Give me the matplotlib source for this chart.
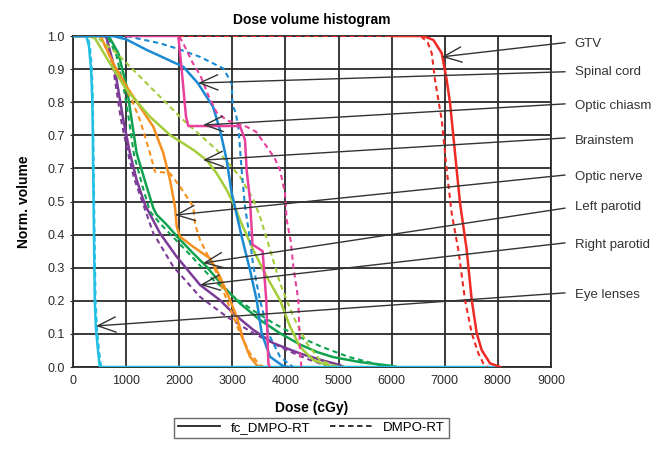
import matplotlib
matplotlib.use("Agg")
import matplotlib.pyplot as plt
from matplotlib.lines import Line2D

# ── Data (dose in cGy, normalised volume) ──────────────────────────────────────
organs = ["GTV", "Spinal cord", "Optic chiasm", "Brainstem",
          "Optic nerve", "Left parotid", "Right parotid", "Eye lenses"]

gtv_fc_x = [6000, 6597, 6786, 6943, 7037, 7100, 7163, 7225, 7288, 7414, 7508, 7602, 7696, 7853, 7979, 8050]
gtv_fc_y = [1, 1, 0.988, 0.948, 0.867, 0.797, 0.696, 0.595, 0.495, 0.353, 0.202, 0.102, 0.051, 0.011, 0.004, 0]
gtv_dm_x = [2000, 6550, 6680, 6755, 6817, 6943, 7037, 7131, 7257, 7382, 7508, 7633, 7727, 7800]
gtv_dm_y = [1, 1, 0.98, 0.948, 0.867, 0.746, 0.595, 0.464, 0.353, 0.202, 0.102, 0.041, 0.011, 0]

cord_fc_x = [0, 750, 1000, 1388, 1700, 2077, 2354, 2637, 2768, 2894, 2988, 3019, 3176, 3333, 3459, 3553, 3710, 3955, 4050]
cord_fc_y = [1, 1, 0.99, 0.958, 0.935, 0.907, 0.857, 0.786, 0.716, 0.625, 0.525, 0.505, 0.394, 0.293, 0.202, 0.102, 0.031, 0.003, 0]
cord_dm_x = [0, 1000, 1638, 2000, 2392, 2831, 2988, 3005, 3060, 3113, 3176, 3239, 3320, 3396, 3522, 3679, 3898, 4143]
cord_dm_y = [1, 1, 0.978, 0.96, 0.937, 0.902, 0.857, 0.79, 0.77, 0.726, 0.595, 0.484, 0.4, 0.303, 0.202, 0.102, 0.031, 0]

chiasm_fc_x = [1000, 1984, 2047, 2128, 2172, 3145, 3239, 3270, 3333, 3380, 3570, 3640, 3679, 3700]
chiasm_fc_y = [1, 1, 0.897, 0.756, 0.728, 0.728, 0.686, 0.595, 0.505, 0.37, 0.35, 0.2, 0.011, 0]
chiasm_dm_x = [1000, 2000, 2100, 2250, 2400, 2550, 2700, 2900, 3270, 3450, 3647, 3800, 3898, 3992, 4024, 4100, 4149, 4243, 4274, 4300]
chiasm_dm_y = [1, 1, 0.97, 0.92, 0.88, 0.82, 0.77, 0.745, 0.726, 0.71, 0.666, 0.63, 0.595, 0.525, 0.444, 0.38, 0.303, 0.202, 0.05, 0]

brain_fc_x = [0, 300, 414, 697, 1011, 1450, 1827, 2266, 2517, 2706, 2894, 3019, 3145, 3396, 3647, 3898, 4087, 4274, 4526, 4800, 5000]
brain_fc_y = [1, 1, 0.993, 0.917, 0.837, 0.756, 0.701, 0.656, 0.625, 0.585, 0.535, 0.495, 0.444, 0.353, 0.273, 0.202, 0.122, 0.061, 0.021, 0.005, 0]
brain_dm_x = [0, 420, 823, 1450, 2077, 2706, 3145, 3396, 3522, 3700, 3898, 4149, 4400, 4651, 4900, 5100]
brain_dm_y = [1, 1, 0.948, 0.847, 0.746, 0.656, 0.575, 0.505, 0.454, 0.36, 0.253, 0.152, 0.072, 0.021, 0.005, 0]

nerve_fc_x = [0, 500, 540, 759, 1011, 1262, 1512, 1701, 1827, 1921, 1953, 2015, 2266, 2580, 2768, 2957, 3082, 3207, 3333, 3459, 3520]
nerve_fc_y = [1, 1, 0.993, 0.917, 0.847, 0.786, 0.726, 0.646, 0.565, 0.484, 0.424, 0.394, 0.363, 0.328, 0.273, 0.202, 0.152, 0.082, 0.031, 0.006, 0]
nerve_dm_x = [0, 520, 600, 800, 1105, 1262, 1450, 1544, 1700, 1827, 2015, 2266, 2300, 2392, 2706, 2900, 3145, 3333, 3522, 3600]
nerve_dm_y = [1, 1, 0.97, 0.9, 0.807, 0.746, 0.646, 0.59, 0.588, 0.585, 0.545, 0.484, 0.43, 0.384, 0.283, 0.2, 0.102, 0.041, 0.006, 0]

lpar_fc_x = [0, 650, 697, 853, 1011, 1105, 1199, 1387, 1512, 1576, 1764, 1984, 2266, 2517, 2831, 3145, 3522, 3898, 4274, 4600, 4896, 5400, 5970, 6100]
lpar_fc_y = [1, 1, 0.993, 0.948, 0.847, 0.746, 0.646, 0.545, 0.48, 0.46, 0.43, 0.39, 0.343, 0.303, 0.243, 0.192, 0.142, 0.102, 0.068, 0.045, 0.03, 0.015, 0.004, 0]
lpar_dm_x = [0, 620, 680, 820, 960, 1060, 1150, 1320, 1450, 1638, 1900, 2200, 2642, 3000, 3400, 3800, 4274, 4700, 5200, 5800, 6100]
lpar_dm_y = [1, 1, 0.99, 0.94, 0.84, 0.74, 0.64, 0.54, 0.47, 0.434, 0.39, 0.34, 0.263, 0.215, 0.17, 0.13, 0.09, 0.06, 0.03, 0.005, 0]

rpar_fc_x = [0, 600, 634, 791, 948, 1073, 1199, 1356, 1638, 1953, 2392, 2768, 3019, 3396, 3773, 4274, 4700, 5028, 5100]
rpar_fc_y = [1, 1, 0.993, 0.897, 0.746, 0.646, 0.565, 0.49, 0.404, 0.333, 0.248, 0.202, 0.162, 0.112, 0.072, 0.041, 0.02, 0.006, 0]
rpar_dm_x = [0, 580, 640, 760, 900, 1030, 1150, 1293, 1512, 1889, 2392, 2894, 3396, 4024, 4400, 4700, 4800]
rpar_dm_y = [1, 1, 0.99, 0.9, 0.75, 0.65, 0.57, 0.505, 0.404, 0.303, 0.212, 0.152, 0.102, 0.051, 0.025, 0.008, 0]

lens_fc_x = [0, 250, 300, 340, 365, 380, 395, 410, 430, 470, 505, 8000]
lens_fc_y = [1, 1, 0.97, 0.9, 0.8, 0.6, 0.4, 0.2, 0.12, 0.05, 0, 0]
lens_dm_x = [0, 270, 320, 355, 375, 390, 405, 425, 450, 490, 530, 8000]
lens_dm_y = [1, 1, 0.97, 0.9, 0.8, 0.6, 0.4, 0.2, 0.12, 0.05, 0, 0]

# arrow tips (on curves) and line ends (near the labels)
arrow_tip_x = [6943, 2354, 2448, 2448, 1921, 2448, 2392, 433]
arrow_tip_y = [0.937, 0.858, 0.731, 0.625, 0.459, 0.314, 0.248, 0.124]
arrow_end_y = [0.980, 0.892, 0.795, 0.692, 0.580, 0.480, 0.375, 0.224]
label_y = [0.976, 0.890, 0.790, 0.683, 0.573, 0.483, 0.368, 0.217]

x_ticks = [0, 1000, 2000, 3000, 4000, 5000, 6000, 7000, 8000, 9000]
y_ticks = [0.0, 0.1, 0.2, 0.3, 0.4, 0.5, 0.6, 0.7, 0.8, 0.9, 1.0]
y_tick_labels = ["0.0", "0.1", "0.2", "0.3", "0.4", "0.5", "0.7", "0.7", "0.8", "0.9", "1.0"]

# ── Style ──────────────────────────────────────────────────────────────────────
plt.rcParams["font.family"] = ["Liberation Sans", "DejaVu Sans"]
DASH = (0, (2.5, 1.8))
LW_FC = 1.8
LW_DM = 1.5

curves = [  # (fc_x, fc_y, dm_x, dm_y, color) in draw order
    (rpar_fc_x, rpar_fc_y, rpar_dm_x, rpar_dm_y, "#7b3b97"),
    (lpar_fc_x, lpar_fc_y, lpar_dm_x, lpar_dm_y, "#10a24f"),
    (nerve_fc_x, nerve_fc_y, nerve_dm_x, nerve_dm_y, "#f7901e"),
    (brain_fc_x, brain_fc_y, brain_dm_x, brain_dm_y, "#a5cd39"),
    (lens_fc_x, lens_fc_y, lens_dm_x, lens_dm_y, "#22bfe4"),
    (cord_fc_x, cord_fc_y, cord_dm_x, cord_dm_y, "#1a8ad4"),
    (chiasm_fc_x, chiasm_fc_y, chiasm_dm_x, chiasm_dm_y, "#e8409c"),
    (gtv_fc_x, gtv_fc_y, gtv_dm_x, gtv_dm_y, "#ee2a24"),
]

fig = plt.figure(figsize=(6.6, 4.49), dpi=100)
ax = fig.add_axes([0.1106, 0.1826, 0.7242, 0.7372])

for fx, fy, dx, dy, c in curves:
    ax.plot(dx, dy, color=c, lw=LW_DM, linestyle=DASH, zorder=3)
    ax.plot(fx, fy, color=c, lw=LW_FC, zorder=3)

ax.set_xlim(0, 9000)
ax.set_ylim(0, 1.0)
ax.set_xticks(x_ticks)
ax.set_yticks(y_ticks)
ax.set_yticklabels(y_tick_labels)
ax.grid(True, color="#2a2a2a", lw=1.3, zorder=1)
ax.set_axisbelow(True)
for s in ax.spines.values():
    s.set_color("#2a2a2a")
    s.set_linewidth(1.3)
ax.tick_params(axis="both", labelsize=9, colors="#2a2a2a", length=0, pad=6)
ax.tick_params(axis="y", length=2, pad=4)

ax.set_title("Dose volume histogram", fontsize=10, fontweight="bold", pad=9)
ax.set_xlabel("Dose (cGy)", fontsize=10, fontweight="bold", labelpad=10)
ax.set_ylabel("Norm. volume", fontsize=10, fontweight="bold", labelpad=12)

# ── Arrow annotations ──────────────────────────────────────────────────────────
for name, tx, ty, ey, ly in zip(organs, arrow_tip_x, arrow_tip_y, arrow_end_y, label_y):
    ax.annotate(
        "", xy=(tx, ty), xytext=(9266, ey),
        arrowprops=dict(arrowstyle="->,head_length=1.3,head_width=0.55",
                        color="#333333", lw=1.0, shrinkA=0, shrinkB=0),
        annotation_clip=False, zorder=5,
    )
    ax.text(9450, ly, name, fontsize=9.5, color="#333333",
            ha="left", va="center", clip_on=False)

# ── Legend ─────────────────────────────────────────────────────────────────────
handles = [
    Line2D([], [], color="#222222", lw=1.3),
    Line2D([], [], color="#222222", lw=1.3, linestyle=(0, (3, 2))),
]
fig.legend(handles, ["fc_DMPO-RT", "DMPO-RT"], loc="center",
           bbox_to_anchor=(0.472, 0.047), ncol=2, fontsize=9.5,
           frameon=True, fancybox=False, edgecolor="#444444",
           handlelength=3.2, columnspacing=1.5, borderpad=0.3)

fig.savefig("out.png", dpi=100)
